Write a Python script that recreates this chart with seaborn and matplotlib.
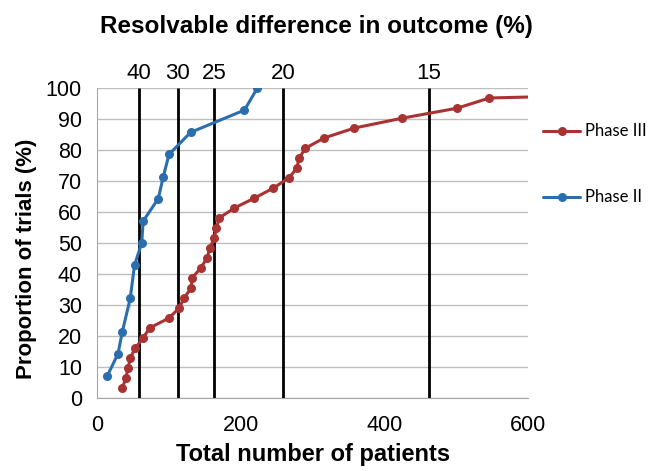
import matplotlib
matplotlib.use("Agg")
import matplotlib.pyplot as plt
import matplotlib.transforms as mtransforms
import seaborn as sns
import numpy as np
import pandas as pd

# cumulative proportion of trials vs. total sample size
phase2_patients = [14, 29, 35, 46, 46, 52, 62, 64, 85, 92, 100, 130, 205, 223]
phase2_prop = [7.1, 14.3, 21.4, 28.6, 35.7, 42.9, 50.0, 57.1, 64.3, 71.4,
               78.6, 85.7, 92.9, 100.0]

phase3_patients = [35, 40, 43, 46, 53, 64, 73, 100, 114, 121, 131, 132, 144,
                   153, 157, 163, 166, 170, 191, 219, 245, 267, 278, 281, 290,
                   316, 358, 425, 501, 546, 1100]
phase3_prop = [3.2, 6.5, 9.7, 12.9, 16.1, 19.4, 22.6, 25.8, 29.0, 32.3, 35.5,
               38.7, 41.9, 45.2, 48.4, 51.6, 54.8, 58.1, 61.3, 64.5, 67.7,
               71.0, 74.2, 77.4, 80.6, 83.9, 87.1, 90.3, 93.5, 96.8, 100.0]

# sample size needed to resolve a given difference in outcome
diff_labels = ["40", "30", "25", "20", "15"]
diff_patients = [58, 112, 163, 259, 462]

red = "#a93232"
blue = "#2b6ead"

df = pd.concat([
    pd.DataFrame({"patients": phase3_patients, "prop": phase3_prop, "phase": "Phase III"}),
    pd.DataFrame({"patients": phase2_patients, "prop": phase2_prop, "phase": "Phase II"}),
])

sns.set_style("white")
plt.rcParams["font.family"] = ["Liberation Sans", "DejaVu Sans"]
plt.rcParams["text.color"] = "black"
plt.rcParams["axes.labelcolor"] = "black"
plt.rcParams["xtick.labelcolor"] = "black"
plt.rcParams["ytick.labelcolor"] = "black"

fig = plt.figure(figsize=(6.48, 4.71), dpi=100)
ax = fig.add_axes([0.150, 0.155, 0.665, 0.658])

for ph, col in [("Phase III", red), ("Phase II", blue)]:
    sns.lineplot(data=df[df.phase == ph], x="patients", y="prop", sort=False,
                 color=col, marker="o", markersize=6.5, markeredgewidth=0,
                 linewidth=2.2, label=ph, ax=ax, zorder=3)

ax.vlines(diff_patients, 0, 100, color="black", linewidth=2, zorder=2)
trans = mtransforms.blended_transform_factory(ax.transData, ax.transAxes)
for lab, x in zip(diff_labels, diff_patients):
    ax.text(x, 1.012, lab, transform=trans, ha="center", va="bottom", fontsize=16)

ax.set_xlim(0, 600)
ax.set_ylim(0, 100)
ax.set_xticks([0, 200, 400, 600])
ax.set_yticks(np.arange(0, 101, 10))
ax.yaxis.grid(True, color="#bfbfbf", linewidth=1)
ax.xaxis.grid(False)
for s in ["top", "right"]:
    ax.spines[s].set_visible(False)
for s in ["left", "bottom"]:
    ax.spines[s].set_color("#a6a6a6")
ax.tick_params(axis="x", labelsize=15.5, length=8, direction="inout",
               color="#a6a6a6", pad=8)
ax.tick_params(axis="y", labelsize=15.5, length=4, color="#a6a6a6", pad=7)

ax.set_xlabel("Total number of patients", fontsize=17, fontweight="bold",
              labelpad=5)
ax.set_ylabel("Proportion of trials (%)", fontsize=16, fontweight="bold")
ax.yaxis.set_label_coords(-0.14, 0.45)
fig.text(0.489, 0.943, "Resolvable difference in outcome (%)", fontsize=17.5,
         fontweight="bold", ha="center", va="center")

ax.legend(loc="upper left", bbox_to_anchor=(1.035, 0.886), frameon=False,
          prop={"family": "Lato", "size": 12}, handlelength=2.2,
          labelspacing=3.0, handletextpad=0.3, borderpad=0, borderaxespad=0)

fig.savefig("out.png", dpi=100)
